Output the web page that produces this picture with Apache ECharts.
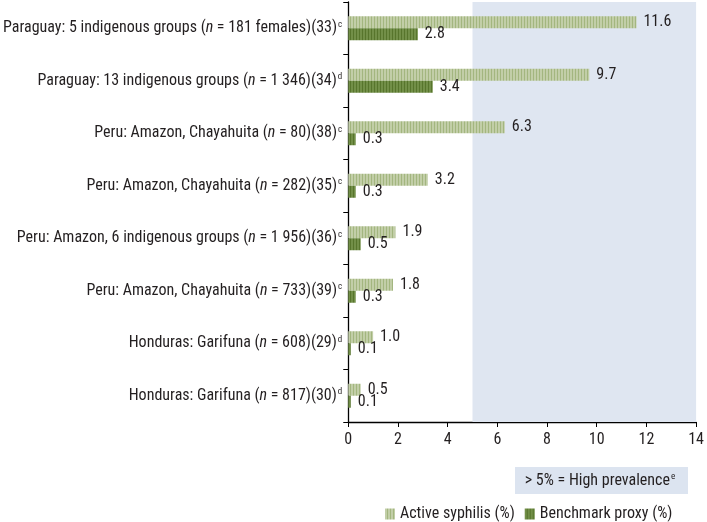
<!DOCTYPE html>
<html>
<head>
<meta charset="utf-8">
<script src="https://cdn.jsdelivr.net/npm/echarts@6/dist/echarts.min.js"></script>
<style>html,body{margin:0;padding:0;background:#fff;}#chart{width:707px;height:522px;}</style>
</head>
<body>
<div id="chart"></div>
<script>
// ---- data ----
var sites = [
  "Paraguay: 5 indigenous groups",
  "Paraguay: 13 indigenous groups",
  "Peru: Amazon, Chayahuita",
  "Peru: Amazon, Chayahuita",
  "Peru: Amazon, 6 indigenous groups",
  "Peru: Amazon, Chayahuita",
  "Honduras: Garifuna",
  "Honduras: Garifuna"
];
var sampleSizes = ["181 females", "1 346", "80", "282", "1 956", "733", "608", "817"];
var refs = ["33", "34", "38", "35", "36", "39", "29", "30"];
var notes = ["c", "d", "c", "c", "c", "c", "d", "d"];
var activeSyphilis = [11.6, 9.7, 6.3, 3.2, 1.9, 1.8, 1.0, 0.5];
var benchmarkProxy = [2.8, 3.4, 0.3, 0.3, 0.5, 0.3, 0.1, 0.1];
var seriesNames = ["Active syphilis (%)", "Benchmark proxy (%)"];
var xTicks = [0, 2, 4, 6, 8, 10, 12, 14];
var highThreshold = 5;
var boxText = "> 5% = High prevalence";
var boxNote = "e";

var FONT = "'Liberation Sans Narrow', 'Roboto Condensed', Roboto, sans-serif";
var FS = 16;

function stripe(a, b) {
  var c = document.createElement('canvas');
  c.width = 3; c.height = 4;
  var ctx = c.getContext('2d');
  ctx.fillStyle = a; ctx.fillRect(0, 0, 2, 4);
  ctx.fillStyle = b; ctx.fillRect(2, 0, 1, 4);
  return { image: c, repeat: 'repeat' };
}
var lightPat = stripe('#c2cea8', '#a3b67f');
var darkPat = stripe('#728f48', '#57752c');

var categories = sites.map(function (s, i) { return i; });

var chart = echarts.init(document.getElementById('chart'), null, { renderer: 'canvas' });
var option = {
  animation: false,
  textStyle: { fontFamily: FONT },
  grid: { left: 346, right: 9, top: 2, bottom: 100, containLabel: false },
  xAxis: {
    type: 'value', min: xTicks[0], max: xTicks[xTicks.length - 1], interval: 2,
    axisLine: { show: true, lineStyle: { color: '#000', width: 1.3 } },
    axisTick: { show: true, length: 5, lineStyle: { color: '#000' } },
    splitLine: { show: false },
    axisLabel: { color: '#231f20', fontSize: FS, fontFamily: FONT, margin: 10 }
  },
  yAxis: {
    type: 'category', inverse: true, data: categories,
    axisLine: { show: true, lineStyle: { color: '#000', width: 1.3 } },
    axisTick: { show: true, length: 5, lineStyle: { color: '#000' } },
    axisLabel: {
      margin: 6, color: '#231f20', fontSize: FS, fontFamily: FONT,
      formatter: function (v) {
        var i = +v;
        return '{t|' + sites[i] + ' (}{i|n}{t| = ' + sampleSizes[i] + ')(' + refs[i] + ')}{s|' + notes[i] + '}';
      },
      rich: {
        t: { fontSize: FS, fontFamily: FONT, color: '#231f20' },
        i: { fontSize: FS, fontFamily: FONT, fontStyle: 'italic', color: '#231f20' },
        s: { fontSize: 9, fontFamily: FONT, color: '#231f20', verticalAlign: 'top', padding: [0, 0, 8, 1] }
      }
    }
  },
  legend: {
    left: 380, top: 501, itemWidth: 10, itemHeight: 11, itemGap: 10,
    textStyle: { fontSize: FS, fontFamily: FONT, color: '#231f20' },
    data: [
      { name: seriesNames[0], icon: 'rect' },
      { name: seriesNames[1], icon: 'rect' }
    ]
  },
  graphic: [
    { type: 'rect', left: 515, top: 467, shape: { width: 173, height: 27 }, style: { fill: '#dce4f0' } },
    { type: 'text', x: 600, y: 481, style: {
        text: '{a|' + boxText + '}{b|' + boxNote + '}',
        align: 'center', verticalAlign: 'middle',
        rich: {
          a: { fontSize: FS, fontFamily: FONT, fill: '#231f20' },
          b: { fontSize: 9, fontFamily: FONT, fill: '#231f20', verticalAlign: 'top', padding: [0, 0, 8, 1] }
        }
      } }
  ],
  series: [
    {
      type: 'line', data: [], z: 0, silent: true,
      markArea: {
        silent: true,
        itemStyle: { color: '#dfe6f1' },
        data: [[{ xAxis: highThreshold }, { xAxis: xTicks[xTicks.length - 1] }]]
      }
    },
    {
      name: seriesNames[0], type: 'bar', data: activeSyphilis, z: 3,
      barWidth: 12, barGap: '0%',
      itemStyle: { color: lightPat },
      label: { show: true, position: 'right', distance: 7, fontSize: FS, fontFamily: FONT, color: '#231f20',
        formatter: function (p) { return p.value.toFixed(1); } }
    },
    {
      name: seriesNames[1], type: 'bar', data: benchmarkProxy, z: 3,
      barWidth: 12, barGap: '0%',
      itemStyle: { color: darkPat },
      label: { show: true, position: 'right', distance: 7, fontSize: FS, fontFamily: FONT, color: '#231f20',
        formatter: function (p) { return p.value.toFixed(1); } }
    }
  ]
};
chart.setOption(option);
</script>
</body>
</html>
